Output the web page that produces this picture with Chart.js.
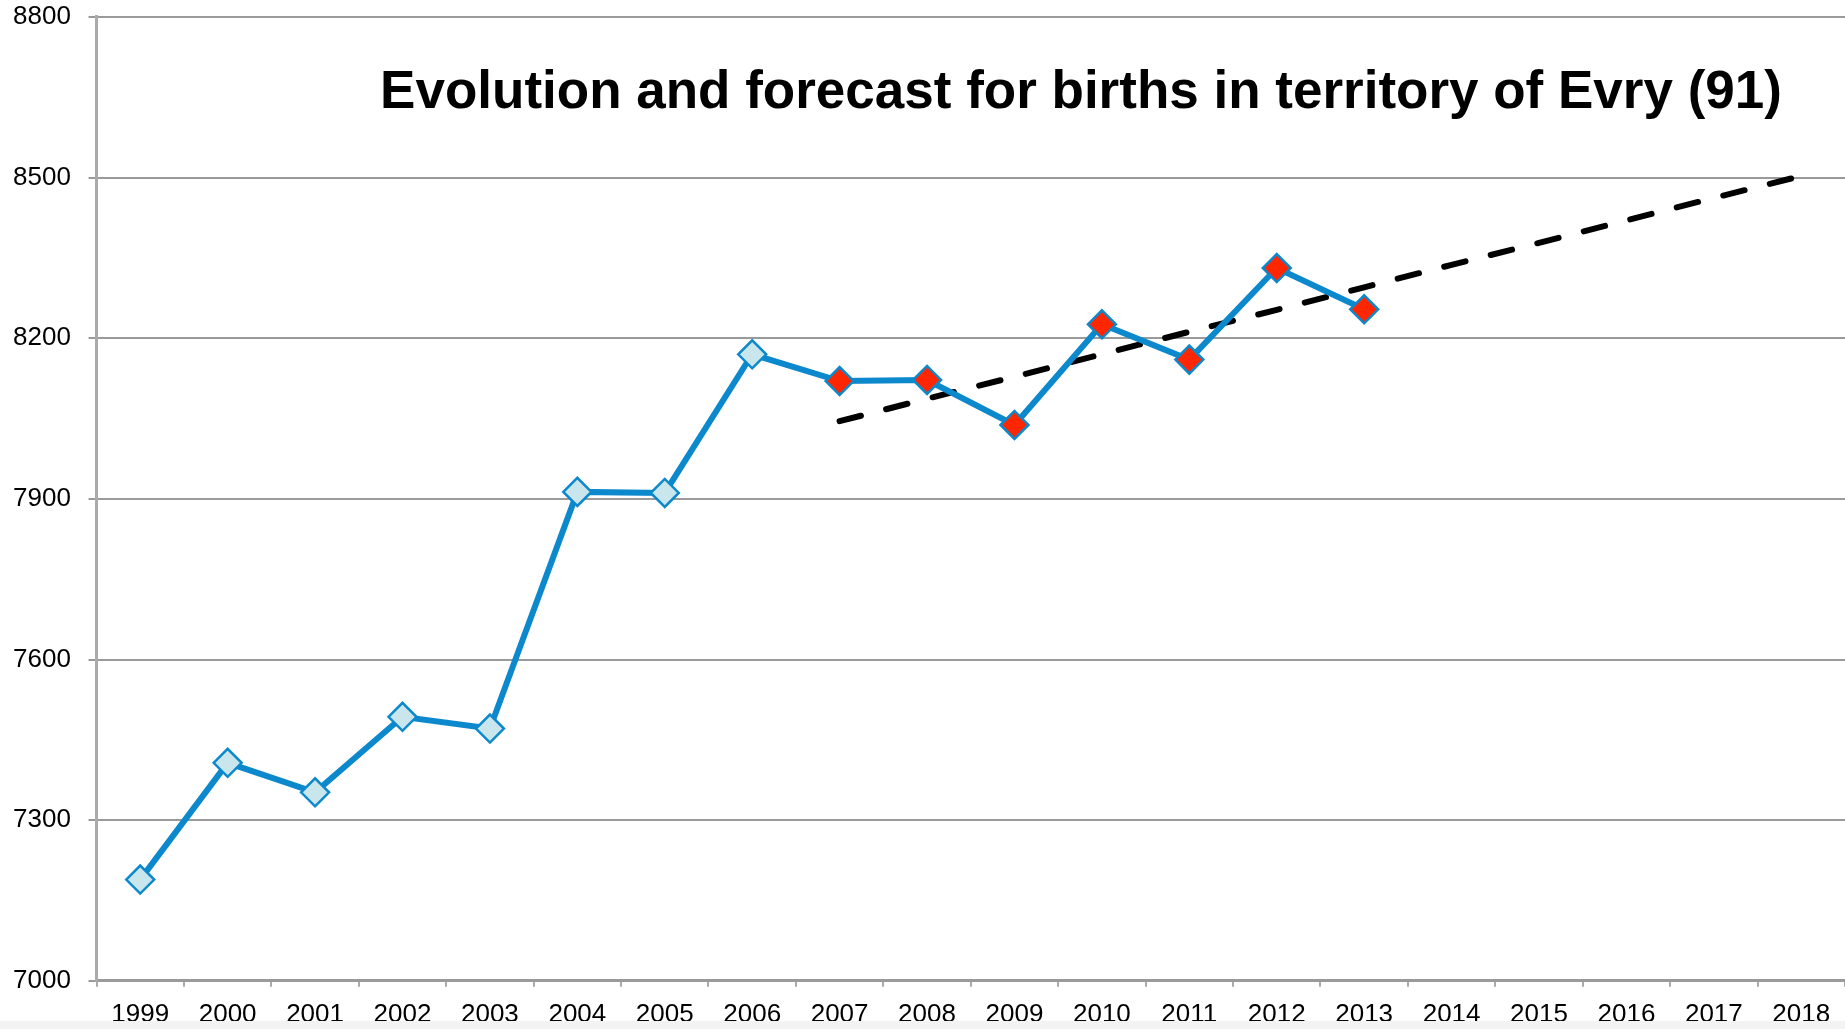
<!DOCTYPE html>
<html>
<head>
<meta charset="utf-8">
<title>Births Evry</title>
<script src="https://cdn.jsdelivr.net/npm/chart.js@4.4.1/dist/chart.umd.min.js"></script>
<style>
    html, body { margin: 0; padding: 0; background: #fff; overflow: hidden; }
    .wrap { position: relative; width: 1845px; height: 1029px; }
    .strip { position: absolute; left: 0; bottom: 0; width: 100%; height: 8px; background: #f3f3f3; }
</style>
</head>
<body>
<div class="wrap">
    <canvas id="birthChart"></canvas>
    <div class="strip"></div>
</div>
<script>
// data
const years = ['1999', '2000', '2001', '2002', '2003', '2004', '2005', '2006', '2007',
    '2008', '2009', '2010', '2011', '2012', '2013', '2014', '2015', '2016', '2017', '2018'];
const births = [7189, 7407, 7352, 7493, 7471, 7913, 7911, 8170, 8120, 8122, 8038, 8226, 8160, 8331, 8254];
const trend = [null, null, null, null, null, null, null, null,
    8045, 8087, 8128, 8170, 8212, 8253, 8295, 8337, 8378, 8420, 8462, 8503];
const yTicks = [7000, 7300, 7600, 7900, 8200, 8500, 8800];
const firstRecentYear = 2007;
const titleText = 'Evolution and forecast for births in territory of Evry (91)';

const lineBlue = '#0c88cd';
const paleFill = '#c9e6ec';
const redFill = '#ff2600';

const pointFills = births.map(function(v, i) {
    return Number(years[i]) >= firstRecentYear ? redFill : paleFill;
});

// titre dessine a la main (pas centre sur le graphe)
const titlePlugin = {
    id: 'bigTitle',
    afterDraw: function(chart) {
        const c = chart.ctx;
        c.save();
        c.font = 'bold 53px "Liberation Sans", Arial, sans-serif';
        c.fillStyle = '#000';
        c.textAlign = 'center';
        c.textBaseline = 'alphabetic';
        c.fillText(titleText, 1081, 108);
        c.restore();
    }
};

const ctx = document.getElementById('birthChart').getContext('2d');

new Chart(ctx, {
    type: 'line',
    data: {
        labels: years,
        datasets: [{
            label: 'Births',
            data: births,
            borderColor: lineBlue,
            borderWidth: 6,
            tension: 0,
            pointStyle: 'rectRot',
            pointRadius: 14,
            pointBorderWidth: 2.5,
            pointBorderColor: lineBlue,
            pointBackgroundColor: pointFills
        }, {
            label: 'Trend',
            data: trend,
            borderColor: '#000',
            borderWidth: 6,
            borderDash: [22, 26],
            borderCapStyle: 'round',
            pointRadius: 0,
            tension: 0
        }]
    },
    options: {
        responsive: true,
        maintainAspectRatio: false,
        animation: false,
        events: [],
        // padding negatif en bas : les labels sont coupes comme sur l'original
        layout: { autoPadding: false, padding: { top: 1, right: 0, bottom: -13, left: 13 } },
        plugins: {
            legend: { display: false },
            tooltip: { enabled: false },
            title: { display: false }
        },
        scales: {
            x: {
                offset: true,
                grid: {
                    offset: true,
                    drawOnChartArea: false,
                    color: '#aaa',
                    lineWidth: 2,
                    tickLength: 6
                },
                border: { color: '#9a9a9a', width: 3 },
                ticks: {
                    color: '#000',
                    font: { family: '"Liberation Sans", Arial, sans-serif', size: 26 },
                    padding: 12,
                    maxRotation: 0,
                    autoSkip: false
                }
            },
            y: {
                min: 7000,
                max: 8800,
                afterBuildTicks: function(scale) {
                    scale.ticks = yTicks.map(function(v) { return { value: v }; });
                },
                afterFit: function(scale) {
                    scale.width = 83.5;
                },
                grid: {
                    color: '#9a9a9a',
                    lineWidth: 2,
                    tickLength: 8
                },
                border: { color: '#aaa', width: 3 },
                ticks: {
                    color: '#000',
                    font: { family: '"Liberation Sans", Arial, sans-serif', size: 26, lineHeight: 1.3 },
                    padding: 0,
                    crossAlign: 'far',
                    callback: function(value) {
                        return String(value);
                    }
                }
            }
        }
    },
    plugins: [titlePlugin]
});
</script>
</body>
</html>
